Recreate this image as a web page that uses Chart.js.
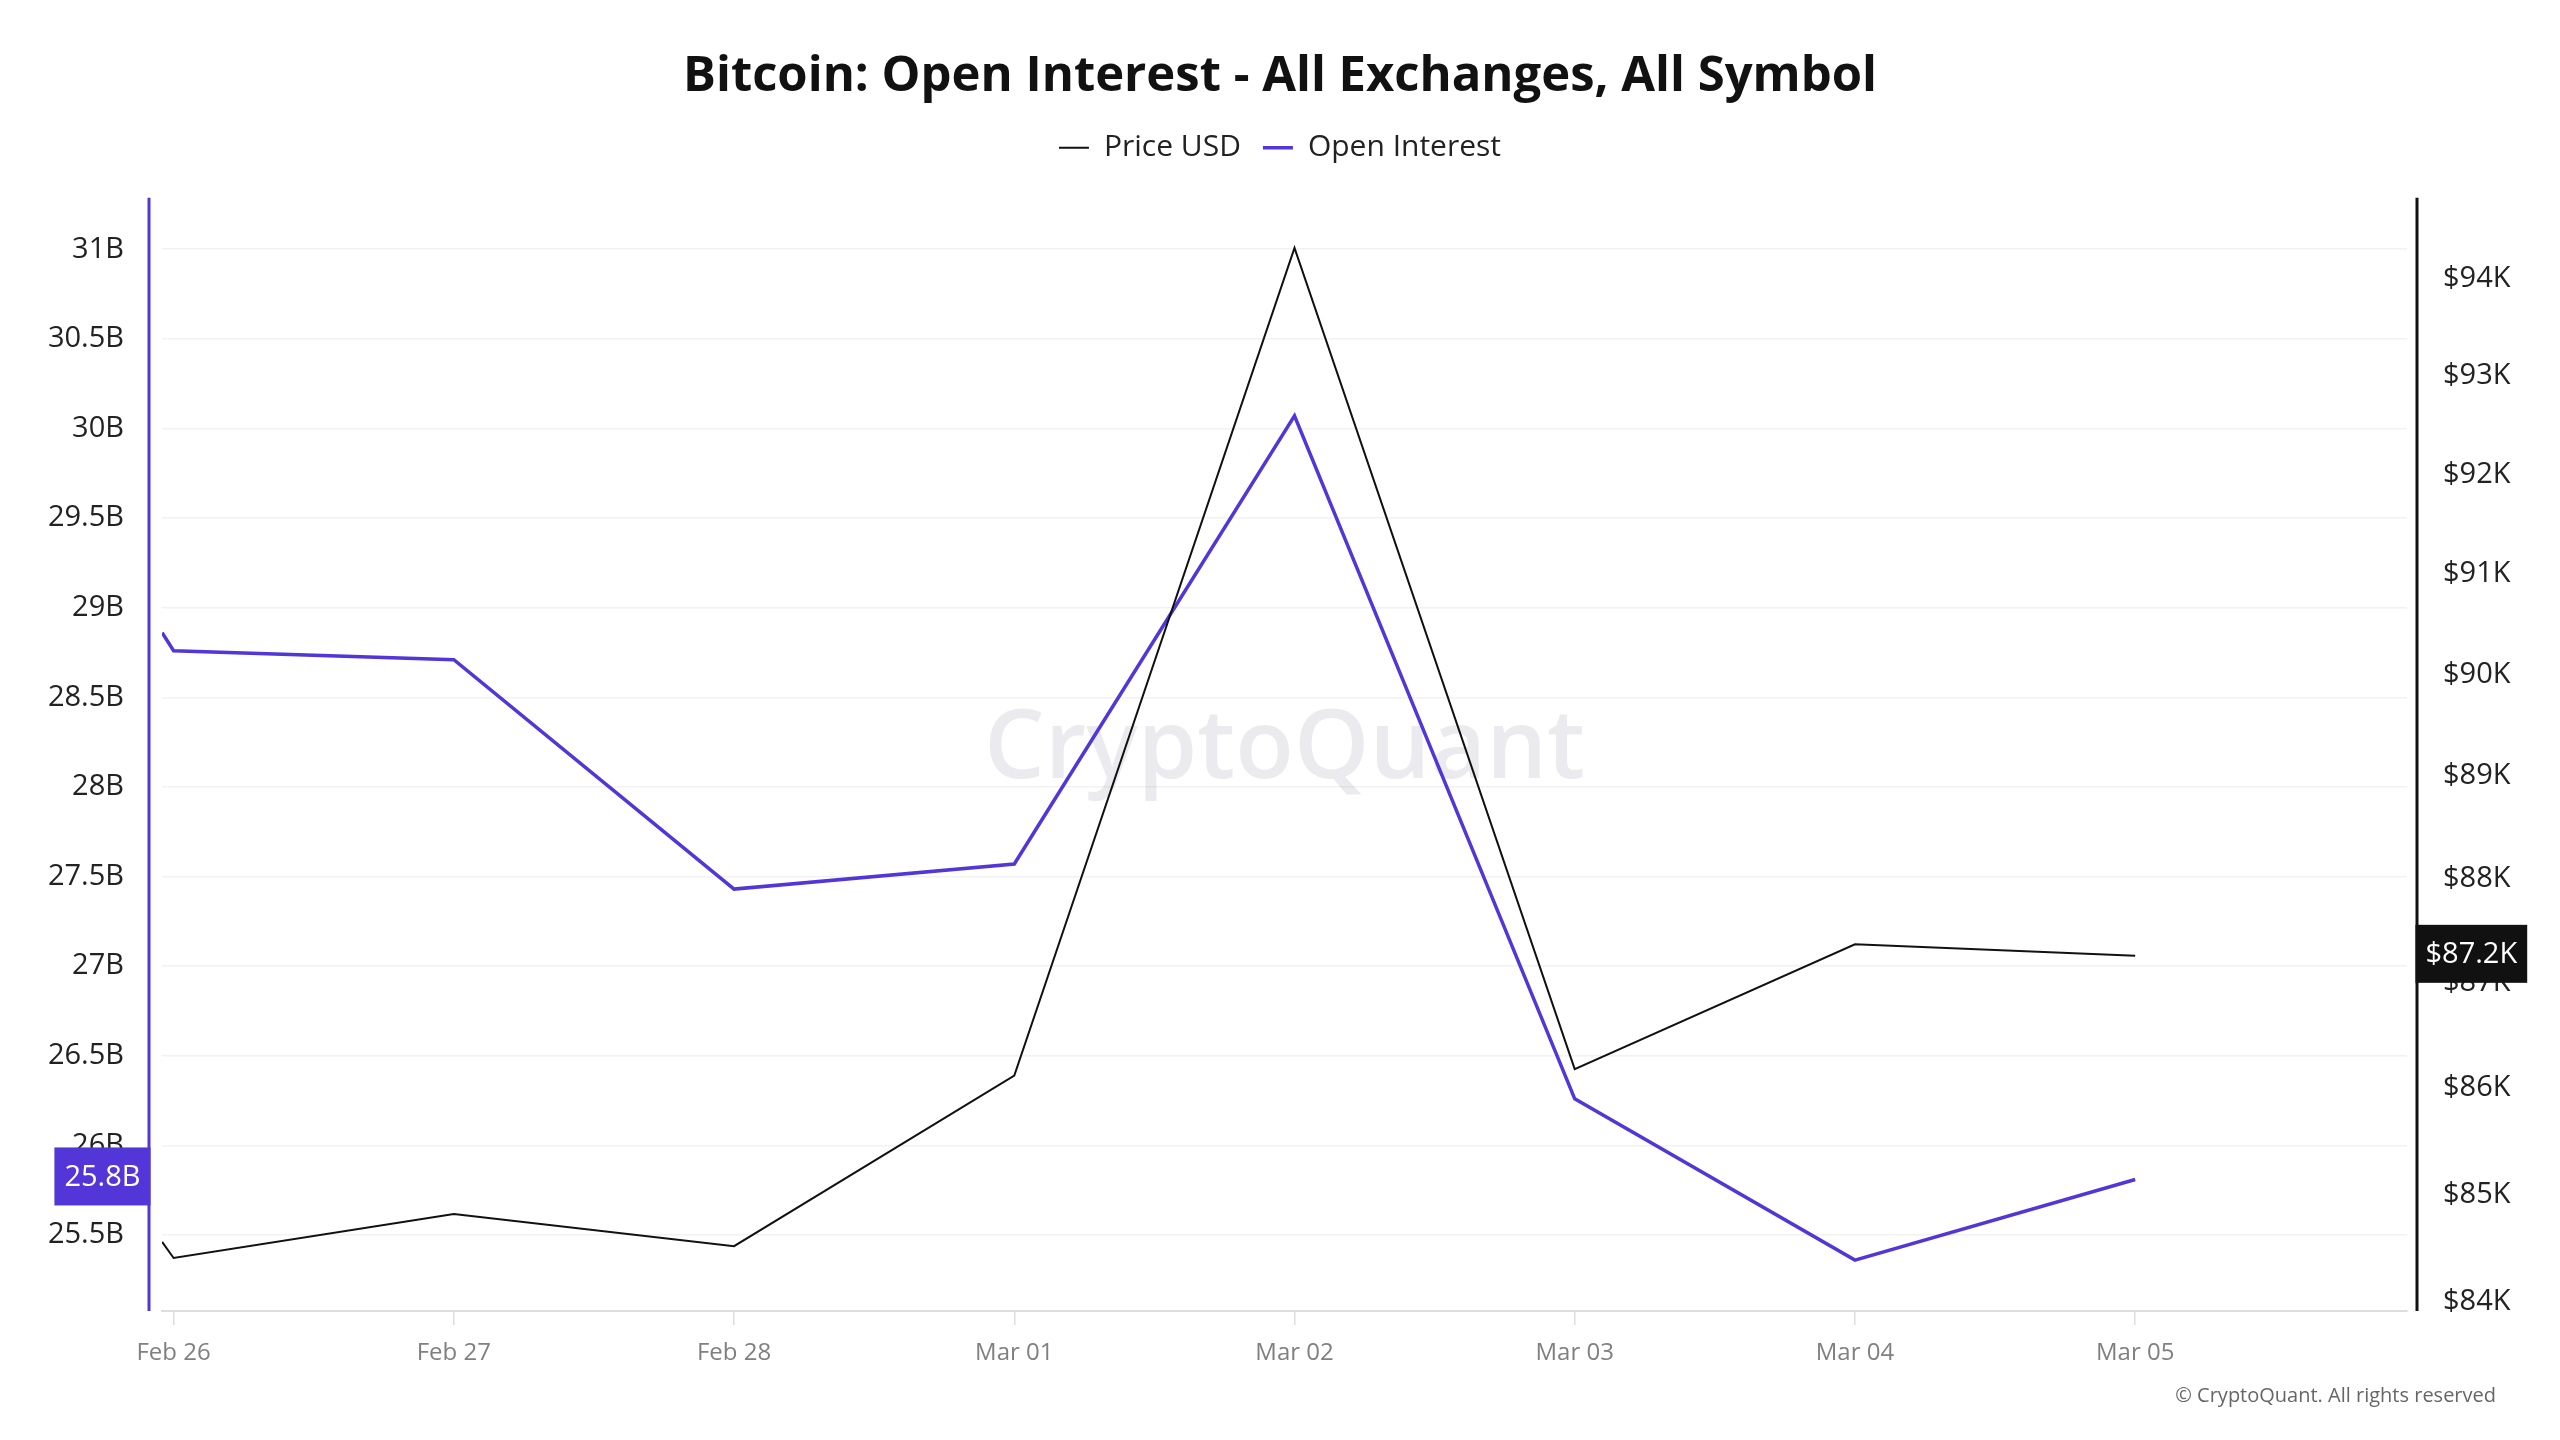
<!DOCTYPE html>
<html>
<head>
<meta charset="utf-8">
<title>Bitcoin: Open Interest - All Exchanges, All Symbol</title>
<script src="https://cdn.jsdelivr.net/npm/chart.js@4.4.1/dist/chart.umd.min.js"></script>
<style>
  html, body { margin: 0; padding: 0; background: #fff; }
  #wrap { width: 2560px; height: 1440px; }
</style>
</head>
<body>
<div id="wrap"><canvas id="oiChart" width="2560" height="1440"></canvas></div>
<script>
// valores: precio en miles de USD (eje log), OI en miles de millones
const dayIndex = [-0.041, 0, 1, 2, 3, 4, 5, 6, 7]
const dateLabels = ['Feb 26', 'Feb 27', 'Feb 28', 'Mar 01', 'Mar 02', 'Mar 03', 'Mar 04', 'Mar 05']
const priceUsd = [84.52, 84.37, 84.78, 84.48, 86.08, 94.28, 86.14, 87.33, 87.22]
const openInterest = [28.86, 28.76, 28.71, 27.43, 27.57, 30.07, 26.26, 25.36, 25.81]
const oiTicks = [25.5, 26, 26.5, 27, 27.5, 28, 28.5, 29, 29.5, 30, 30.5, 31]
const priceTicks = [84, 85, 86, 87, 88, 89, 90, 91, 92, 93, 94]

const PURPLE = '#5236d8'
const BLACK = '#111111'
const FONT = "'Open Sans', 'Noto Sans', sans-serif"

const fmtOi = (v) => v + 'B'
const fmtPrice = (v) => '$' + v + 'K'

const toPoints = (vals) => vals.map((v, i) => ({ x: dayIndex[i], y: v }))

// espacio extra debajo de la leyenda
const legendGap = {
    id: 'legendGap',
    beforeInit(chart) {
        const fit = chart.legend.fit
        chart.legend.fit = function () {
            fit.bind(chart.legend)()
            this.height += 25
        }
    }
}

// ejes verticales, marca de agua, etiquetas del ultimo valor
const extras = {
    id: 'extras',
    beforeDatasetsDraw(chart) {
        const { ctx, chartArea } = chart
        ctx.save()
        ctx.font = '600 96px ' + FONT
        ctx.fillStyle = 'rgba(60, 60, 100, 0.10)'
        ctx.textAlign = 'center'
        ctx.textBaseline = 'middle'
        ctx.fillText('CryptoQuant', (chartArea.left + chartArea.right) / 2, (chartArea.top + chartArea.bottom) / 2 - 4)
        ctx.restore()
    },
    afterDraw(chart) {
        const { ctx, chartArea, scales } = chart
        const leftX = chartArea.left - 13
        const rightX = chartArea.right + 10
        ctx.save()
        ctx.lineWidth = 3
        ctx.strokeStyle = PURPLE
        ctx.beginPath()
        ctx.moveTo(leftX, chartArea.top)
        ctx.lineTo(leftX, chartArea.bottom)
        ctx.stroke()
        ctx.strokeStyle = BLACK
        ctx.beginPath()
        ctx.moveTo(rightX, chartArea.top)
        ctx.lineTo(rightX, chartArea.bottom)
        ctx.stroke()

        const badge = (text, y, edgeX, color, toLeft) => {
            ctx.font = '29px ' + FONT
            const w = ctx.measureText(text).width + 20
            const h = 58
            const x0 = toLeft ? edgeX - w : edgeX
            ctx.fillStyle = color
            ctx.fillRect(x0, y - h / 2, w, h)
            ctx.fillStyle = '#ffffff'
            ctx.textAlign = 'center'
            ctx.textBaseline = 'middle'
            ctx.fillText(text, x0 + w / 2, y + 1)
        }
        const lastOi = openInterest[openInterest.length - 1]
        const lastPrice = priceUsd[priceUsd.length - 1]
        badge(fmtOi(lastOi.toFixed(1)), scales.yOi.getPixelForValue(lastOi) - 3, leftX + 1.5, PURPLE, true)
        badge(fmtPrice(lastPrice.toFixed(1)), scales.yPrice.getPixelForValue(lastPrice) - 2, rightX - 1.5, BLACK, false)

        ctx.font = '20px ' + FONT
        ctx.fillStyle = '#666666'
        ctx.textAlign = 'right'
        ctx.textBaseline = 'middle'
        ctx.fillText('\u00A9 CryptoQuant. All rights reserved', 2496, 1396)
        ctx.restore()
    }
}

const ctx = document.getElementById('oiChart').getContext('2d')
const oiChart = new Chart(ctx, {
    type: 'line',
    data: {
        datasets: [
            {
                label: 'Price USD',
                data: toPoints(priceUsd),
                yAxisID: 'yPrice',
                borderColor: BLACK,
                backgroundColor: BLACK,
                borderWidth: 2,
                pointRadius: 0,
                tension: 0
            },
            {
                label: 'Open Interest',
                data: toPoints(openInterest),
                yAxisID: 'yOi',
                borderColor: PURPLE,
                backgroundColor: PURPLE,
                borderWidth: 3.5,
                pointRadius: 0,
                tension: 0
            }
        ]
    },
    options: {
        responsive: false,
        animation: false,
        devicePixelRatio: 1,
        layout: { padding: { top: 0, left: 0, right: 0, bottom: 0 } },
        plugins: {
            title: {
                display: true,
                text: 'Bitcoin: Open Interest - All Exchanges, All Symbol',
                color: BLACK,
                font: { family: FONT, size: 49, weight: 'bold' },
                padding: { top: 48, bottom: 4 }
            },
            legend: {
                display: true,
                labels: {
                    usePointStyle: true,
                    pointStyle: 'line',
                    pointStyleWidth: 30,
                    color: '#222',
                    font: { family: FONT, size: 30 },
                    padding: 22
                }
            },
            tooltip: { enabled: false }
        },
        scales: {
            x: {
                type: 'linear',
                min: -0.0414,
                max: 7.97,
                afterBuildTicks: (scale) => { scale.ticks = dateLabels.map((_, i) => ({ value: i })) },
                afterFit: (scale) => { scale.height = 129 },
                ticks: {
                    autoSkip: false,
                    maxRotation: 0,
                    color: '#808080',
                    font: { family: FONT, size: 24 },
                    padding: 14,
                    callback: (v) => dateLabels[v]
                },
                grid: { drawOnChartArea: false, drawTicks: true, tickLength: 14, color: '#dddddd', lineWidth: 1.5 },
                border: { display: true, color: '#dddddd', width: 2 }
            },
            yOi: {
                type: 'linear',
                position: 'left',
                min: 25.076,
                max: 31.287,
                afterBuildTicks: (scale) => { scale.ticks = oiTicks.map((v) => ({ value: v })) },
                afterFit: (scale) => { scale.width = 162 },
                ticks: {
                    color: '#222',
                    font: { family: FONT, size: 29 },
                    padding: 38,
                    callback: (v) => fmtOi(v)
                },
                grid: { color: '#f2f2f2', lineWidth: 1.5, drawTicks: false },
                border: { display: false }
            },
            yPrice: {
                type: 'logarithmic',
                position: 'right',
                min: 83.88,
                max: 94.80,
                afterBuildTicks: (scale) => { scale.ticks = priceTicks.map((v) => ({ value: v })) },
                afterFit: (scale) => { scale.width = 153 },
                ticks: {
                    color: '#222',
                    font: { family: FONT, size: 29 },
                    padding: 36,
                    labelOffset: 4,
                    callback: (v) => fmtPrice(v)
                },
                grid: { drawOnChartArea: false, drawTicks: false },
                border: { display: false }
            }
        }
    },
    plugins: [legendGap, extras]
})
</script>
</body>
</html>
